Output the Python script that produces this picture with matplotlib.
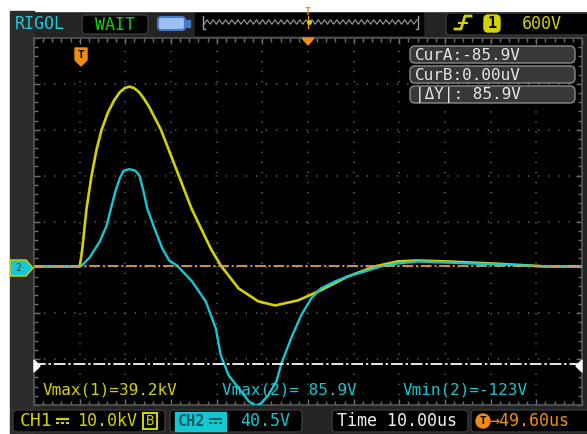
import matplotlib.pyplot as plt
from matplotlib.patches import Rectangle, FancyBboxPatch, Polygon
import numpy as np

# screen readings: time in us from the trigger point
ch1_time = [-10.4, -0.4, 0.0, 0.3, 1.1, 2.2, 3.3, 4.4, 5.8, 7.2, 8.4, 9.5, 10.5, 11.5,
            12.6, 13.6, 14.8, 17.4, 21.3, 24.1, 28.3, 30.5, 34.4, 38.7, 42.4, 47.4,
            52.4, 58.3, 64.2, 69.2, 73.5, 80.0, 90.9, 101.8, 109.6]
ch1_kv = [0.0, 0.0, 2.5, 5.0, 12.6, 19.8, 25.5, 29.8, 33.6, 36.3, 38.0, 38.9, 39.2, 38.9,
          38.0, 36.7, 34.8, 29.8, 19.8, 12.6, 3.9, 0.2, -4.8, -7.6, -8.5, -7.4,
          -5.2, -2.2, 0.0, 1.1, 1.3, 1.1, 0.6, 0.0, 0.0]

ch2_time = [-10.4, -0.4, 0.0, 1.8, 4.0, 5.5, 6.5, 7.4, 8.4, 9.2, 10.5, 11.8, 12.7, 13.6,
            14.4, 16.0, 17.7, 19.2, 20.9, 24.2, 27.2, 29.4, 30.5, 32.2, 34.4, 36.6, 38.1,
            39.4, 40.9, 42.7, 43.8, 45.9, 48.1, 50.3, 52.4, 55.5, 58.3, 62.0, 65.5,
            69.2, 73.5, 80.0, 90.9, 101.8, 109.6]
ch2_volt = [0.0, 0.0, 0.5, 8.0, 22.0, 36.0, 52.0, 66.0, 78.0, 84.5, 85.9, 84.5, 80.1, 66.0,
            51.0, 33.5, 15.8, 5.3, 0.9, -13.2, -30.8, -54.6, -78.4, -96.0, -107.4, -118.9, -123.0,
            -120.6, -113.6, -101.2, -85.4, -63.4, -43.1, -28.2, -19.4, -13.2, -8.8, -4.4, 0.0,
            2.6, 4.4, 3.5, 1.8, 0.0, 0.0]

ch1_scale = 10.0     # kV/div
ch2_scale = 40.5     # V/div
ground_div = -0.98
t_left, t_right = -10.4, 109.6
cursor_a = -85.9     # V on CH2
cursor_b = 0.0

YEL = '#d2d200'
CYAN = '#12c8d2'
ORANGE = '#f08c10'
MONO = 'DejaVu Sans Mono'

W, H = 587, 434
fig = plt.figure(figsize=(W / 100, H / 100), dpi=100, facecolor='#242424')

# background layer in pixel coordinates
bg = fig.add_axes([0, 0, 1, 1])
bg.set_xlim(0, W)
bg.set_ylim(H, 0)
bg.axis('off')
bg.add_patch(Rectangle((0, 0), W, 11, color='white'))
bg.add_patch(Rectangle((0, 0), 10, H, color='white'))
bg.add_patch(Rectangle((10, 11), 24, H - 11, color='#2c2c2c'))

# scope grid
gx0, gx1, gy0, gy1 = 34, 582, 38, 405
ax = fig.add_axes([gx0 / W, 1 - gy1 / H, (gx1 - gx0) / W, (gy1 - gy0) / H])
ax.set_facecolor('black')
ax.set_xlim(t_left, t_right)
ax.set_ylim(-4, 4)
ax.set_xticks(np.arange(t_left, t_right + 0.1, 10))
ax.set_xticks(np.arange(t_left, t_right + 0.1, 2), minor=True)
ax.set_yticks(np.arange(-4, 4.1, 1))
ax.set_yticks(np.arange(-4, 4.1, 0.2), minor=True)
ax.tick_params(which='both', direction='in', top=True, right=True, color='#707070',
               labelbottom=False, labelleft=False, width=1)
ax.tick_params(which='major', length=4)
ax.tick_params(which='minor', length=3)
ax.grid(which='major', color='#6a6a6a', linestyle=(0, (0.8, 5.8)), linewidth=1.1)
for s in ax.spines.values():
    s.set_color('#555555')
    s.set_linewidth(1.2)

ax.plot(ch1_time, np.array(ch1_kv) / ch1_scale + ground_div, color=YEL, lw=1.9, zorder=3)
ax.plot(ch2_time, np.array(ch2_volt) / ch2_scale + ground_div, color=CYAN, lw=1.7, zorder=4)
ax.axhline(cursor_b / ch2_scale + ground_div, color='#d8a050', lw=1.3,
           linestyle=(0, (6, 1.5, 1.2, 1.5)), zorder=5)
ax.axhline(cursor_a / ch2_scale + ground_div, color='#e8e8e8', lw=1.4,
           linestyle=(0, (6, 1.5, 1.2, 1.5)), zorder=5)

# overlay layer in pixel coordinates
ov = fig.add_axes([0, 0, 1, 1], facecolor='none')
ov.set_xlim(0, W)
ov.set_ylim(H, 0)
ov.axis('off')


def dc_symbol(x0, yc, color):
    # DC coupling sign: solid bar over a dashed bar
    ov.plot([x0, x0 + 13], [yc - 2.5, yc - 2.5], color=color, lw=1.5, solid_capstyle='butt')
    for k in range(3):
        ov.plot([x0 + k * 5, x0 + k * 5 + 3], [yc + 2, yc + 2], color=color, lw=1.5,
                solid_capstyle='butt')


# top bar
ov.text(15, 24, 'RIGOL', color='#20c8d8', fontsize=12, family=MONO, va='center')
ov.add_patch(FancyBboxPatch((82, 15), 66, 19, boxstyle='round,pad=0,rounding_size=4',
                            fc='black', ec='#3a3a3a'))
ov.text(115, 24.5, 'WAIT', color='#10d010', fontsize=12, family=MONO, va='center', ha='center')
ov.add_patch(FancyBboxPatch((158, 17), 27, 13, boxstyle='round,pad=0,rounding_size=3',
                            fc='#9cc0f0', ec='#4a78c8', lw=1.5))
ov.add_patch(Rectangle((185, 20), 5, 7, color='#4a78c8'))
ov.add_patch(Rectangle((195, 13), 228, 22, color='black'))
zx = np.linspace(204, 417, 70)
ov.plot(zx, 22 + 2.2 * np.where(np.arange(70) % 2 == 0, 1, -1), color='#a0a0a0', lw=0.8)
ov.plot([203, 203, 205], [16, 29, 29], color='#a0a0a0', lw=1)
ov.plot([418, 418, 416], [16, 29, 29], color='#a0a0a0', lw=1)
ov.text(308, 12, 'T', color=ORANGE, fontsize=7, family=MONO, ha='center', va='center',
        fontweight='bold')
ov.plot([308, 308], [16, 28], color=ORANGE, lw=1)
ov.plot([309], [22], 'o', color=YEL, ms=2.5)
ov.add_patch(FancyBboxPatch((446, 13), 145, 22, boxstyle='round,pad=0,rounding_size=4',
                            fc='black', ec='#3a3a3a'))
ov.plot([455, 461, 465, 471], [29, 29, 16, 16], color=YEL, lw=2)
ov.plot([459, 467], [22.5, 22.5], color=YEL, lw=1.5)
ov.add_patch(FancyBboxPatch((484, 15), 16, 17, boxstyle='round,pad=0,rounding_size=4',
                            fc=YEL, ec=YEL))
ov.text(492, 23.5, '1', color='black', fontsize=11, family=MONO, ha='center', va='center',
        fontweight='bold')
ov.text(522, 24, '600V', color=YEL, fontsize=12, family=MONO, va='center')

# markers on the grid
ov.add_patch(Polygon([[308 - 6, 38], [308 + 6, 38], [308, 45]], color=ORANGE))
ov.add_patch(Polygon([[75, 48], [87, 48], [87, 60], [81, 66], [75, 60]], color=ORANGE))
ov.text(81, 55, 'T', color='black', fontsize=8, family=MONO, ha='center', va='center',
        fontweight='bold')
ov.add_patch(Polygon([[10, 260], [26, 260], [33, 268], [26, 276], [10, 276]],
                     fc=CYAN, ec=YEL, lw=1))
ov.text(18, 268, '2', color='#104040', fontsize=7, family=MONO, ha='center', va='center')
ov.add_patch(Polygon([[34, 360], [40, 366], [34, 372]], color='white'))
ov.add_patch(Polygon([[582, 360], [576, 366], [582, 372]], color='white'))

# cursor readouts
for i, txt in enumerate(['CurA:-85.9V', 'CurB:0.00uV', '|ΔY|: 85.9V']):
    y0 = 46 + 20 * i
    ov.add_patch(FancyBboxPatch((410, y0), 165, 17, boxstyle='round,pad=0,rounding_size=5',
                                fc='#383838', ec='#8a8a8a', lw=1))
    ov.text(415, y0 + 9, txt, color='#e6e6e6', fontsize=11.5, family=MONO, va='center')

# measurements
ov.text(43, 390, 'Vmax(1)=39.2kV', color=YEL, fontsize=11.5, family=MONO, va='center')
ov.text(222, 390, 'Vmax(2)= 85.9V', color=CYAN, fontsize=11.5, family=MONO, va='center')
ov.text(403, 390, 'Vmin(2)=-123V', color=CYAN, fontsize=11.5, family=MONO, va='center')

# bottom bar
for x0, w in [(13, 152), (170, 132), (332, 136), (471, 120)]:
    ov.add_patch(FancyBboxPatch((x0, 410), w, 22, boxstyle='round,pad=0,rounding_size=4',
                                fc='black', ec='#3a3a3a'))
ov.text(20, 421, 'CH1', color=YEL, fontsize=13, family=MONO, va='center')
dc_symbol(56, 421, YEL)
ov.text(77, 421, '10.0kV', color=YEL, fontsize=12, family=MONO, va='center')
ov.add_patch(Rectangle((143, 413), 14, 16, fc='black', ec=YEL, lw=1.5))
ov.text(150, 421, 'B', color=YEL, fontsize=10, family=MONO, va='center', ha='center')
ov.add_patch(Rectangle((175, 412), 51, 19, color=CYAN))
ov.text(178, 421.5, 'CH2', color='#0a5a60', fontsize=11, family=MONO, va='center',
        fontweight='bold')
dc_symbol(209, 421, '#0a5a60')
ov.text(240, 421, '40.5V', color=CYAN, fontsize=12, family=MONO, va='center')
ov.text(337, 421, 'Time 10.00us', color='#f0f0f0', fontsize=12, family=MONO, va='center')
ov.add_patch(plt.Circle((483, 421), 7, color=ORANGE))
ov.text(483, 421, 'T', color='black', fontsize=8, family=MONO, ha='center', va='center',
        fontweight='bold')
ov.text(489, 421, '\u219249.60us', color=ORANGE, fontsize=12, family=MONO, va='center')

fig.savefig('out.png', dpi=100, facecolor=fig.get_facecolor())
